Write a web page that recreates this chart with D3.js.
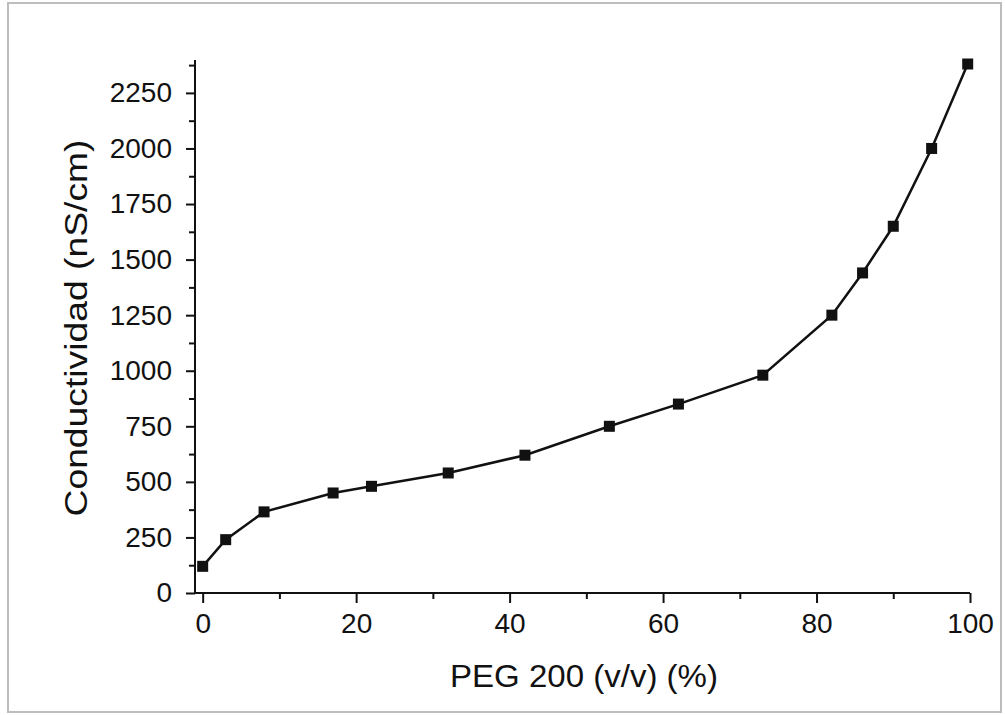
<!DOCTYPE html>
<html>
<head>
<meta charset="utf-8">
<script src="https://cdn.jsdelivr.net/npm/d3@7"></script>
<style>
  body { margin: 0; background: #fff; }
  svg { display: block; font-family: 'Liberation Sans', Arial, sans-serif; }
</style>
</head>
<body>
<svg id="chart" width="1005" height="715"></svg>
<script>
// PEG 200 content (% v/v)
const pegPercent = [0, 3, 8, 17, 22, 32, 42, 53, 62, 73, 82, 86, 90, 95, 99.7]
// conductivity (nS/cm)
const conductivity = [120, 240, 365, 450, 480, 540, 620, 750, 850, 980, 1250, 1440, 1650, 2000, 2380]

const xTicks = [0, 20, 40, 60, 80, 100]
const yTicks = [0, 250, 500, 750, 1000, 1250, 1500, 1750, 2000, 2250]

const xLabel = 'PEG 200 (v/v) (%)'
const yLabel = 'Conductividad (nS/cm)'

const svg = d3.select('#chart')

// outer frame
svg.append('rect')
  .attr('x', 8).attr('y', 3)
  .attr('width', 993).attr('height', 709)
  .attr('fill', 'none')
  .attr('stroke', '#bdbdbd')
  .attr('stroke-width', 2)

const plot = { left: 195, right: 970, top: 60, bottom: 593 }

const x = d3.scaleLinear().domain([-1, 100]).range([plot.left, plot.right])
const y = d3.scaleLinear().domain([0, 2398]).range([plot.bottom, plot.top])

// x axis: minors then majors
svg.append('g').attr('transform', `translate(0,${plot.bottom})`)
  .call(d3.axisBottom(x).tickValues(d3.range(10, 100, 20)).tickSize(6).tickFormat(''))
  .call(g => g.select('.domain').remove())
const xMajor = svg.append('g').attr('transform', `translate(0,${plot.bottom})`)
  .call(d3.axisBottom(x).tickValues(xTicks).tickSize(10).tickSizeOuter(0).tickPadding(10).tickFormat(d3.format('d')))
xMajor.select('.domain').attr('d', `M${plot.left},0H${plot.right}`)

// y axis: minors then majors
svg.append('g').attr('transform', `translate(${plot.left},0)`)
  .call(d3.axisLeft(y).tickValues(d3.range(125, 2400, 250)).tickSize(6).tickFormat(''))
  .call(g => g.select('.domain').remove())
const yMajor = svg.append('g').attr('transform', `translate(${plot.left},0)`)
  .call(d3.axisLeft(y).tickValues(yTicks).tickSize(9).tickSizeOuter(0).tickPadding(14).tickFormat(d3.format('d')))
yMajor.select('.domain').attr('d', `M0,${plot.bottom + 0.5}V${plot.top}`)

svg.selectAll('.domain, .tick line').attr('stroke', '#111').attr('stroke-width', 2)
svg.selectAll('.tick text')
  .attr('fill', '#111')
  .style('font-size', '28px')
  .style('font-family', "'Liberation Sans', Arial, sans-serif")

// axis titles
svg.append('text')
  .attr('x', 584)
  .attr('y', 687)
  .attr('text-anchor', 'middle')
  .attr('fill', '#111')
  .attr('textLength', 268)
  .attr('lengthAdjust', 'spacingAndGlyphs')
  .style('font-size', '31px')
  .text(xLabel)

svg.append('text')
  .attr('transform', `translate(87,328) rotate(-90)`)
  .attr('text-anchor', 'middle')
  .attr('fill', '#111')
  .attr('textLength', 377)
  .attr('lengthAdjust', 'spacingAndGlyphs')
  .style('font-size', '32px')
  .text(yLabel)

// data
const pts = pegPercent.map((v, i) => [v, conductivity[i]])

const line = d3.line()
  .x(d => x(d[0]))
  .y(d => y(d[1]))

svg.append('path')
  .datum(pts)
  .attr('d', line)
  .attr('fill', 'none')
  .attr('stroke', '#111')
  .attr('stroke-width', 2.5)

svg.selectAll('.pt')
  .data(pts)
  .enter()
  .append('rect')
  .attr('class', 'pt')
  .attr('x', d => x(d[0]) - 5.5)
  .attr('y', d => y(d[1]) - 5.5)
  .attr('width', 11)
  .attr('height', 11)
  .attr('fill', '#111')
</script>
</body>
</html>
